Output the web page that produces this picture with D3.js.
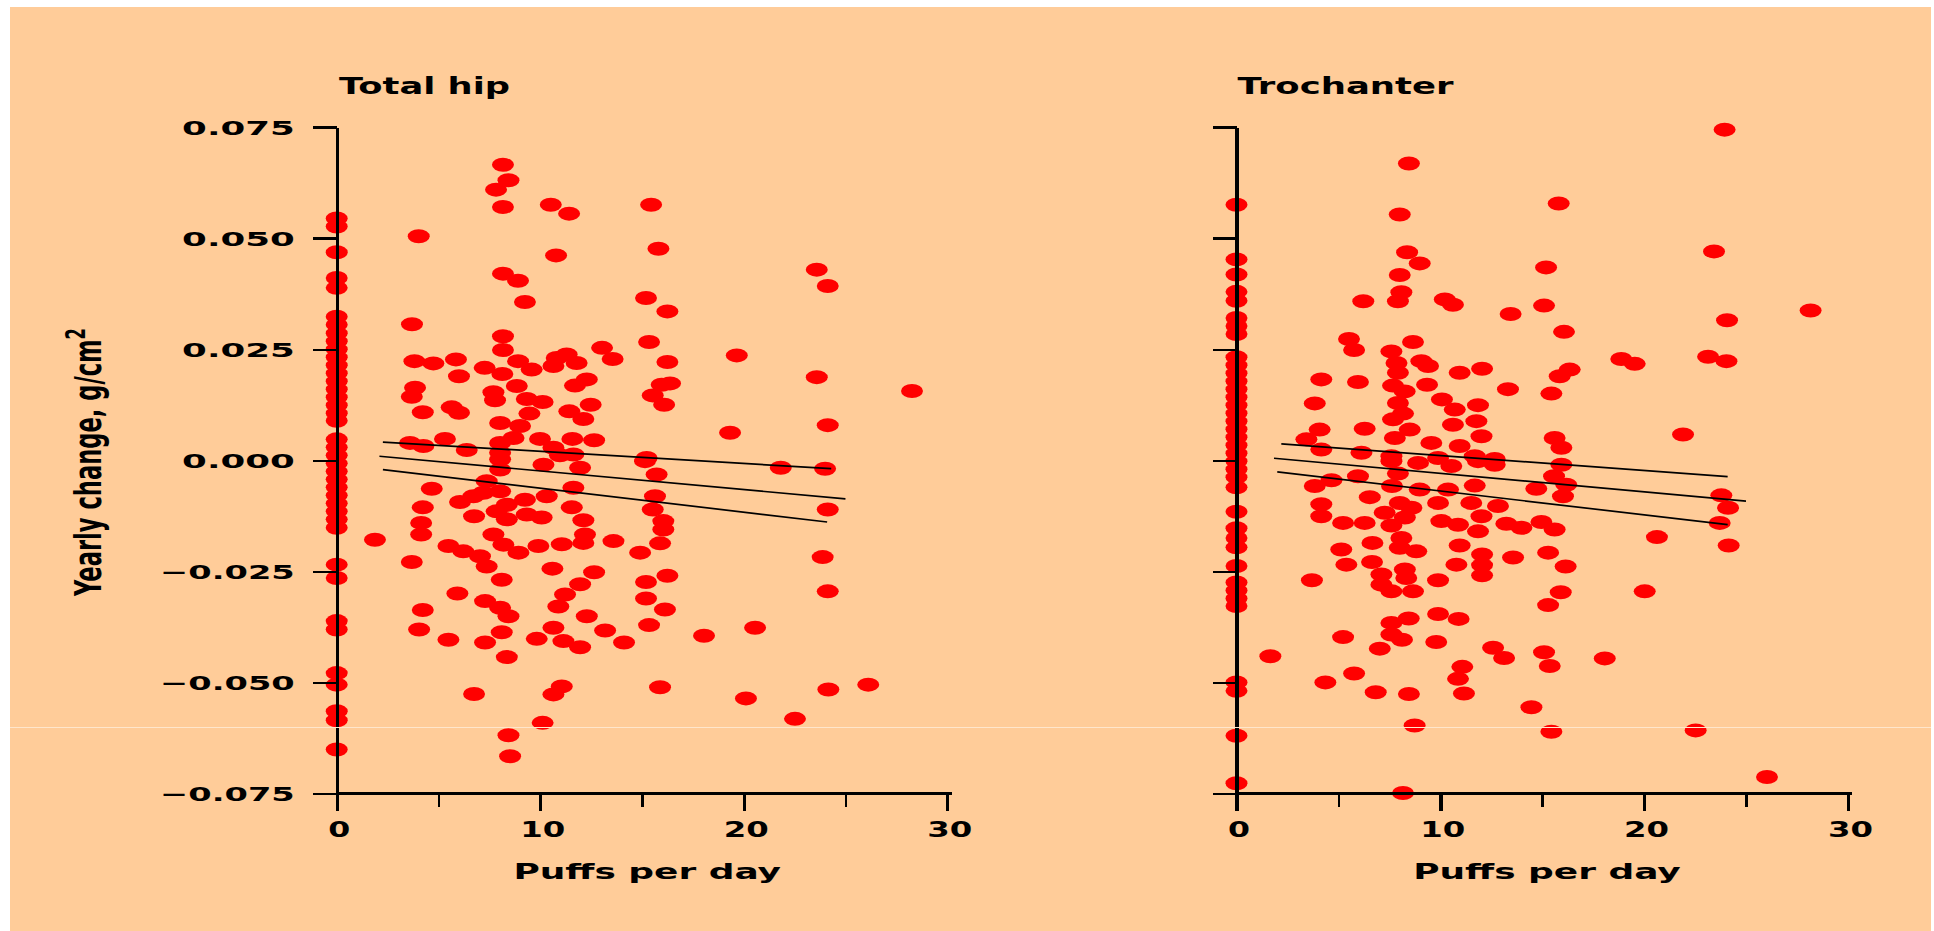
<!DOCTYPE html>
<html>
<head>
<meta charset="utf-8">
<script src="https://cdn.jsdelivr.net/npm/d3@7"></script>
<style>
  html, body { margin: 0; padding: 0; background: #ffffff; }
  svg { display: block; }
  text { font-family: "DejaVu Sans", "Liberation Sans", Arial, sans-serif; font-weight: bold; fill: #000; }
</style>
</head>
<body>
<svg id="chart" width="1934" height="931"></svg>
<script>
// ---- data -------------------------------------------------------------
// [puffs per day, yearly change in g/cm2]
const totalHipPoints = [
  // non-users (0 puffs)
  [0,0.0544],[0,0.0526],[0,0.0468],[0,0.0410],[0,0.0388],
  [0,0.0323],[0,0.0305],[0,0.0286],[0,0.0268],[0,0.0250],[0,0.0232],[0,0.0214],
  [0,0.0196],[0,0.0178],[0,0.0160],[0,0.0142],[0,0.0124],[0,0.0106],[0,0.0089],
  [0,0.0047],[0,0.0029],[0,0.0011],[0,-0.0007],[0,-0.0025],[0,-0.0043],[0,-0.0061],
  [0,-0.0079],[0,-0.0097],[0,-0.0115],[0,-0.0133],[0,-0.0152],
  [0,-0.0235],[0,-0.0265],[0,-0.0362],[0,-0.0381],[0,-0.0479],[0,-0.0505],
  [0,-0.0565],[0,-0.0585],[0,-0.0651],
  // users
  [8.17,0.0665],[8.44,0.0630],[7.83,0.0609],[8.17,0.0570],[10.52,0.0575],[11.42,0.0555],
  [15.45,0.0575],[4.03,0.0504],[10.78,0.0461],[15.81,0.0476],[8.17,0.0420],[8.91,0.0404],
  [9.25,0.0356],[15.20,0.0365],[16.25,0.0335],[23.59,0.0429],[24.13,0.0392],[3.70,0.0306],
  [8.17,0.0279],[8.17,0.0248],[15.35,0.0266],[13.04,0.0253],[13.56,0.0228],[16.25,0.0221],
  [19.66,0.0236],[23.59,0.0187],[24.13,0.0079],[19.33,0.0062],[3.82,0.0223],[4.75,0.0218],
  [5.86,0.0227],[6.01,0.0189],[7.27,0.0208],[8.14,0.0194],[8.91,0.0223],[9.58,0.0204],
  [10.65,0.0212],[11.30,0.0238],[11.79,0.0219],[10.81,0.0230],[3.85,0.0163],[3.69,0.0143],
  [4.23,0.0108],[5.65,0.0119],[6.01,0.0107],[7.70,0.0153],[7.78,0.0135],[8.85,0.0167],
  [9.34,0.0138],[10.12,0.0131],[11.71,0.0168],[12.29,0.0182],[11.43,0.0110],[12.12,0.0093],
  [12.48,0.0125],[15.97,0.0170],[16.38,0.0173],[15.53,0.0146],[16.09,0.0125],[8.03,0.0084],
  [9.01,0.0077],[9.47,0.0105],[3.60,0.0039],[4.26,0.0032],[5.32,0.0048],[6.39,0.0023],
  [8.03,0.0039],[8.03,0.0017],[8.69,0.0050],[9.99,0.0048],[10.65,0.0028],[11.58,0.0048],
  [12.65,0.0045],[11.63,0.0013],[15.23,0.0005],
  [8.03,0.0002],[10.97,0.0011],[10.16,-0.0010],[8.03,-0.0021],[11.96,-0.0017],[15.15,-0.0002],
  [15.72,-0.0032],[21.82,-0.0017],[24.00,-0.0019],[4.67,-0.0064],[7.37,-0.0047],[7.21,-0.0073],
  [6.06,-0.0094],[6.72,-0.0081],[8.03,-0.0070],[8.36,-0.0100],[9.25,-0.0089],[10.32,-0.0081],
  [11.63,-0.0062],[4.23,-0.0106],[4.15,-0.0141],[4.15,-0.0167],[6.75,-0.0126],[7.86,-0.0115],
  [8.36,-0.0133],[9.34,-0.0122],[10.07,-0.0129],[11.55,-0.0106],[12.12,-0.0135],[15.64,-0.0081],
  [15.53,-0.0111],[16.05,-0.0137],[16.05,-0.0156],[24.13,-0.0111],[1.88,-0.0179],[7.70,-0.0167],
  [8.19,-0.0190],[8.93,-0.0208],[9.91,-0.0193],[11.06,-0.0189],[12.20,-0.0167],[12.12,-0.0186],
  [13.60,-0.0182],[14.91,-0.0208],[15.89,-0.0187],[5.49,-0.0193],[6.22,-0.0205],[7.04,-0.0216],
  [7.37,-0.0239],[8.11,-0.0269],[3.69,-0.0229],[10.60,-0.0244],[12.65,-0.0252],[11.96,-0.0279],
  [11.22,-0.0302],[10.89,-0.0329],[15.20,-0.0274],[16.25,-0.0260],[23.88,-0.0218],[24.13,-0.0295],
  [5.93,-0.0300],[4.23,-0.0337],[7.29,-0.0317],[8.03,-0.0332],[8.44,-0.0351],[15.20,-0.0311],
  [16.13,-0.0336],[4.05,-0.0381],[5.49,-0.0404],[12.29,-0.0351],[13.19,-0.0383],[14.12,-0.0410],
  [15.35,-0.0371],[18.05,-0.0395],[20.56,-0.0377],[8.11,-0.0387],[7.29,-0.0410],[9.83,-0.0402],
  [10.65,-0.0377],[11.14,-0.0407],[11.96,-0.0421],[8.36,-0.0443],[6.75,-0.0526],[11.06,-0.0509],
  [10.65,-0.0527],[15.89,-0.0511],[20.11,-0.0536],[24.16,-0.0516],[10.12,-0.0591],[22.52,-0.0582],
  [8.44,-0.0619],[8.52,-0.0666],[28.27,0.0156],[26.12,-0.0505]
];

const trochanterPoints = [
  // non-users (0 puffs)
  [0,0.0575],[0,0.0452],[0,0.0418],[0,0.0379],[0,0.0359],[0,0.0320],[0,0.0302],[0,0.0284],
  [0,0.0232],[0,0.0214],[0,0.0196],[0,0.0178],[0,0.0160],[0,0.0142],[0,0.0124],[0,0.0106],
  [0,0.0088],[0,0.0070],[0,0.0052],[0,0.0034],[0,0.0016],[0,-0.0002],[0,-0.0020],[0,-0.0038],
  [0,-0.0061],[0,-0.0116],[0,-0.0153],[0,-0.0175],[0,-0.0196],[0,-0.0238],[0,-0.0275],
  [0,-0.0293],[0,-0.0311],[0,-0.0328],[0,-0.0500],[0,-0.0519],[0,-0.0620],[0,-0.0727],
  // users
  [23.95,0.0744],[8.46,0.0668],[15.81,0.0578],[8.01,0.0553],[23.43,0.0470],[8.37,0.0468],
  [8.99,0.0443],[15.19,0.0434],[8.01,0.0417],[8.09,0.0378],[7.92,0.0358],[6.22,0.0358],
  [10.22,0.0362],[10.62,0.0350],[13.45,0.0329],[15.09,0.0348],[24.07,0.0315],[16.07,0.0289],
  [5.52,0.0273],[5.77,0.0248],[8.66,0.0266],[7.60,0.0245],[9.07,0.0223],[9.40,0.0212],
  [7.85,0.0219],[7.92,0.0197],[10.95,0.0197],[12.05,0.0206],[18.88,0.0228],[19.54,0.0217],
  [23.14,0.0233],[24.04,0.0223],[16.35,0.0204],[15.86,0.0189],[4.16,0.0182],[5.96,0.0176],
  [7.68,0.0168],[8.25,0.0155],[9.35,0.0170],[13.32,0.0160],[15.45,0.0150],[3.84,0.0128],
  [7.92,0.0129],[10.08,0.0137],[10.71,0.0114],[11.85,0.0124],[7.68,0.0092],[8.17,0.0105],
  [10.62,0.0080],[11.77,0.0088],[12.02,0.0054],[4.08,0.0069],[3.43,0.0047],[6.29,0.0071],
  [7.77,0.0050],[8.50,0.0069],[4.16,0.0024],[21.91,0.0058],[15.61,0.0050],[15.94,0.0028],
  [9.56,0.0039],[10.95,0.0032],[6.13,0.0017],[7.60,0.0009],[11.69,0.0009],[12.67,0.0003],
  [28.17,0.0337],
  [15.94,-0.0010],[7.60,-0.0002],[8.91,-0.0006],[9.89,0.0005],[10.54,-0.0013],[11.85,-0.0002],
  [12.67,-0.0010],[15.58,-0.0036],[16.18,-0.0055],[16.02,-0.0081],[14.71,-0.0064],[3.84,-0.0058],
  [4.66,-0.0045],[5.96,-0.0036],[7.92,-0.0030],[7.63,-0.0058],[8.99,-0.0066],[10.38,-0.0066],
  [11.69,-0.0057],[6.54,-0.0083],[8.01,-0.0096],[8.58,-0.0107],[9.89,-0.0096],[11.52,-0.0096],
  [12.83,-0.0103],[7.27,-0.0118],[8.26,-0.0129],[23.79,-0.0079],[24.12,-0.0107],[23.71,-0.0141],
  [4.16,-0.0099],[4.16,-0.0126],[5.23,-0.0141],[6.29,-0.0141],[7.60,-0.0147],[10.05,-0.0137],
  [10.87,-0.0145],[11.85,-0.0160],[12.02,-0.0126],[13.24,-0.0143],[13.98,-0.0152],[14.96,-0.0139],
  [15.61,-0.0156],[20.63,-0.0173],[24.15,-0.0192],[6.67,-0.0186],[8.09,-0.0175],[8.01,-0.0197],
  [8.82,-0.0205],[10.95,-0.0192],[5.14,-0.0201],[5.39,-0.0235],[6.65,-0.0229],[12.05,-0.0212],
  [10.79,-0.0235],[12.05,-0.0236],[13.57,-0.0219],[15.29,-0.0208],[16.15,-0.0239],[3.70,-0.0270],
  [7.11,-0.0257],[8.26,-0.0246],[8.33,-0.0265],[7.11,-0.0280],[7.60,-0.0295],[8.66,-0.0295],
  [9.89,-0.0270],[12.05,-0.0259],[15.91,-0.0297],[15.29,-0.0326],[20.03,-0.0295],[7.60,-0.0366],
  [8.45,-0.0356],[9.89,-0.0346],[10.90,-0.0357],[5.23,-0.0398],[7.60,-0.0392],[8.12,-0.0404],
  [7.03,-0.0424],[9.80,-0.0409],[12.59,-0.0422],[13.13,-0.0445],[15.09,-0.0432],[15.37,-0.0463],
  [18.07,-0.0446],[1.66,-0.0441],[5.77,-0.0480],[4.36,-0.0500],[11.08,-0.0465],[10.87,-0.0492],
  [11.16,-0.0525],[6.83,-0.0522],[8.46,-0.0526],[14.47,-0.0556],[8.74,-0.0597],[15.45,-0.0611],
  [22.53,-0.0608],[8.17,-0.0749],[26.03,-0.0713]
];

// regression line and its 95% band, as [puffs, change] end points
const hipFit   = [[2.10, 0.0009], [25.0, -0.0087]];
const hipUpper = [[2.27, 0.0041], [24.3, -0.0019]];
const hipLower = [[2.27, -0.0021], [24.1, -0.0139]];
const trochFit   = [[1.84, 0.00045], [25.0, -0.0092]];
const trochUpper = [[2.20, 0.0037], [24.1, -0.0037]];
const trochLower = [[2.00, -0.0026], [24.1, -0.0145]];

const yTicks = [0.075, 0.050, 0.025, 0.000, -0.025, -0.050, -0.075];
const yTickLabels = ["0.075", "0.050", "0.025", "0.000", "\u22120.025", "\u22120.050", "\u22120.075"];
const xTicks = [0, 5, 10, 15, 20, 25, 30];
const xTickLabels = ["0", "", "10", "", "20", "", "30"];

const panelTitles = ["Total hip", "Trochanter"];
const xTitle = "Puffs per day";

// ---- drawing ----------------------------------------------------------
const svg = d3.select("#chart");

// peach plate with a thin white margin on top, left and right
svg.append("rect")
  .attr("x", 10).attr("y", 7)
  .attr("width", 1921).attr("height", 924)
  .attr("fill", "#ffcc99");

const y = d3.scaleLinear().domain([-0.075, 0.075]).range([793.5, 127]);

const panels = [
  { title: panelTitles[0], points: totalHipPoints, lines: [hipUpper, hipFit, hipLower],
    x0: 336.7, x1: 947.2, titleX: 339, titleLen: 171, showYLabels: true },
  { title: panelTitles[1], points: trochanterPoints, lines: [trochUpper, trochFit, trochLower],
    x0: 1236.5, x1: 1847.9, titleX: 1237.6, titleLen: 216, showYLabels: false }
];

panels.forEach(p => {
  const x = d3.scaleLinear().domain([0, 30]).range([p.x0, p.x1]);
  const g = svg.append("g");

  // points
  g.append("g").selectAll("ellipse")
    .data(p.points)
    .join("ellipse")
    .attr("cx", d => x(d[0]))
    .attr("cy", d => y(d[1]))
    .attr("rx", 11)
    .attr("ry", 7)
    .attr("fill", "#ff0000");

  // fitted line with confidence band
  const line = d3.line().x(d => x(d[0])).y(d => y(d[1]));
  g.append("g").selectAll("path")
    .data(p.lines)
    .join("path")
    .attr("d", line)
    .attr("fill", "none")
    .attr("stroke", "#000")
    .attr("stroke-width", 1.7);

  // y axis
  const yAxis = d3.axisLeft(y)
    .tickValues(yTicks)
    .tickSize(24)
    .tickSizeOuter(0)
    .tickPadding(18)
    .tickFormat((d, i) => p.showYLabels ? yTickLabels[i] : "");
  const ya = g.append("g")
    .attr("transform", `translate(${p.x0},0)`)
    .call(yAxis);
  ya.select(".domain").attr("stroke-width", 3.2).attr("shape-rendering", "crispEdges");
  ya.selectAll(".tick line").attr("stroke-width", 2.2).attr("shape-rendering", "crispEdges");
  ya.selectAll(".tick text")
    .attr("font-family", null)
    .attr("font-size", 20)
    .attr("dy", null)
    .attr("y", 7.3)
    .attr("x", -42)
    .each(function(d, i) {
      const lbl = yTickLabels[i];
      if (p.showYLabels) d3.select(this).attr("textLength", lbl.startsWith("\u2212") ? 134.6 : 112.6)
        .attr("lengthAdjust", "spacingAndGlyphs");
    });

  // x axis
  const xAxis = d3.axisBottom(x)
    .tickValues(xTicks)
    .tickSizeOuter(0)
    .tickSize(17)
    .tickFormat((d, i) => xTickLabels[i]);
  const xa = g.append("g")
    .attr("transform", `translate(0,${y(-0.075)})`)
    .call(xAxis);
  xa.select(".domain")
    .attr("d", `M${p.x0},0H${p.x1 + 4.5}`)
    .attr("stroke-width", 2.2)
    .attr("shape-rendering", "crispEdges");
  xa.selectAll(".tick line")
    .attr("y2", (d, i) => xTickLabels[i] ? 17 : 13)
    .attr("stroke-width", (d, i) => xTickLabels[i] ? 3.4 : 2.7)
    .attr("shape-rendering", "crispEdges");
  xa.selectAll(".tick text")
    .attr("font-family", null)
    .attr("font-size", 21)
    .attr("dy", null)
    .attr("y", 43.5)
    .attr("dx", 2)
    .each(function(d, i) {
      const lbl = xTickLabels[i];
      if (lbl) d3.select(this).attr("textLength", lbl.length * 23 - 1)
        .attr("lengthAdjust", "spacingAndGlyphs");
    });

  // panel title
  g.append("text")
    .attr("x", p.titleX)
    .attr("y", 94.3)
    .attr("font-size", 23)
    .attr("textLength", p.titleLen)
    .attr("lengthAdjust", "spacingAndGlyphs")
    .text(p.title);

  // x-axis title
  g.append("text")
    .attr("x", p.x0 + 310.5)
    .attr("y", 879.3)
    .attr("text-anchor", "middle")
    .attr("font-size", 21)
    .attr("textLength", 267.6)
    .attr("lengthAdjust", "spacingAndGlyphs")
    .text(xTitle);
});

// y-axis title, set vertically; glyphs drawn wide like the rest of the lettering
const yTitle = svg.append("g")
  .attr("transform", "translate(101,462) scale(2.05,1)")
  .append("text")
  .attr("transform", "rotate(-90)")
  .attr("text-anchor", "middle")
  .attr("font-size", 18)
  .attr("textLength", 268)
  .attr("lengthAdjust", "spacingAndGlyphs");
yTitle.append("tspan").text("Yearly change, g/cm");
yTitle.append("tspan").attr("font-size", 13).attr("dy", -8).text("2");

// faint scan line crossing the plate
svg.append("line")
  .attr("x1", 10).attr("x2", 1931)
  .attr("y1", 727.5).attr("y2", 727.5)
  .attr("stroke", "#ffe6cc")
  .attr("stroke-width", 1);
</script>
</body>
</html>
